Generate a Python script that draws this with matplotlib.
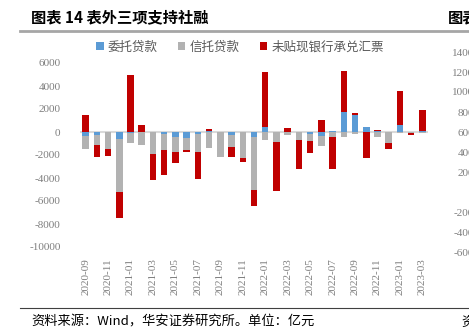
import numpy as np
import matplotlib
matplotlib.use("Agg")
import matplotlib.pyplot as plt
from matplotlib.patches import Patch

plt.rcParams['font.family'] = ['Noto Sans CJK SC', 'DejaVu Sans']

# monthly data, 100 million yuan
months = ["2020-09", "2020-10", "2020-11", "2020-12", "2021-01", "2021-02",
          "2021-03", "2021-04", "2021-05", "2021-06", "2021-07", "2021-08",
          "2021-09", "2021-10", "2021-11", "2021-12", "2022-01", "2022-02",
          "2022-03", "2022-04", "2022-05", "2022-06", "2022-07", "2022-08",
          "2022-09", "2022-10", "2022-11", "2022-12", "2023-01", "2023-02",
          "2023-03"]
entrusted = [-320, -230, -30, -580, -50, -20, -20, -200, -400, -490, -150, 120,
             -10, -230, -20, -400, 400, -20, 30, -10, -150, -380, 60, 1740,
             1510, 435, 50, -20, 580, -10, 120]
trust = [-1160, -870, -1480, -4670, -870, -1070, -1880, -1390, -1330, -1070,
         -1620, -1390, -2150, -1040, -2230, -4640, -720, -870, -290, -670,
         -640, -840, -430, -460, -200, -30, -460, -900, -50, -40, -60]
undiscounted = [1450, -1070, -610, -2200, 4990, 610, -2290, -2150, -930, -200,
                -2290, 170, 0, -870, -380, -1390, 4780, -4230, 300, -2520,
                -1070, 1040, -2750, 3540, 145, -2260, 120, -550, 2960, -200,
                1770]

series_names = ["委托贷款", "信托贷款", "未贴现银行承兑汇票"]
colors = ["#5B9BD5", "#B2B2B2", "#C00000"]
yticks = [6000, 4000, 2000, 0, -2000, -4000, -6000, -8000, -10000]

W, H = 469, 334
fig = plt.figure(figsize=(W / 100, H / 100), dpi=100)
ax = fig.add_axes([80 / W, 1 - 247 / H, 348 / W, (247 - 63) / H])

x = np.arange(len(months))
pos = np.zeros(len(months))
neg = np.zeros(len(months))
handles = []
for vals, c, name in zip([entrusted, trust, undiscounted], colors, series_names):
    v = np.array(vals, dtype=float)
    bottom = np.where(v >= 0, pos, neg)
    ax.bar(x, v, bottom=bottom, width=0.58, color=c, zorder=2)
    pos += np.where(v >= 0, v, 0)
    neg += np.where(v < 0, v, 0)
    handles.append(Patch(facecolor=c, label=name))

ax.axhline(0, color="#D9D9D9", lw=1.5, zorder=1)
ax.set_xlim(-0.5, len(months) - 0.5)
ax.set_ylim(-10000, 6000)
for s in ax.spines.values():
    s.set_visible(False)

tick_font = dict(family="Liberation Serif", size=8, color="#7F7F7F")
ax.set_yticks(yticks)
ax.set_yticklabels([str(t) for t in yticks], **tick_font)
ax.set_xticks(x[::2])
ax.set_xticklabels(months[::2], rotation=90, **tick_font)
ax.tick_params(length=0)
ax.tick_params(axis="y", pad=14)
ax.tick_params(axis="x", pad=8)

leg = ax.legend(handles=handles, loc="center", ncol=3,
                bbox_to_anchor=(0.46, 1 + (63 - 47) / (247 - 63)),
                frameon=False, handlelength=0.6, handleheight=0.6,
                handletextpad=0.35, columnspacing=1.6,
                prop={"size": 9})
for t in leg.get_texts():
    t.set_color("#595959")

# header
fig.text(31 / W, 1 - 17 / H, "图表 14 表外三项支持社融", fontsize=11,
         fontweight="bold", va="center", ha="left")
fig.text(448 / W, 1 - 17 / H, "图表", fontsize=11, fontweight="bold",
         va="center", ha="left")
fig.add_artist(plt.Line2D([20 / W, 1], [1 - 31 / H] * 2, color="#A6A6A6",
                          lw=2))

# edge of the neighbouring chart
for lab, yy in zip(["1400", "1200", "1000", "800", "600", "400", "200",
                    "-200", "-400", "-600"],
                   [53, 73, 93, 114, 133, 153, 174, 213, 234, 254]):
    fig.text(474 / W, 1 - yy / H, lab, ha="right", va="center", **tick_font)

# footer
fig.add_artist(plt.Line2D([20 / W, 1], [1 - 308 / H] * 2, color="#404040",
                          lw=0.8))
fig.text(31 / W, 1 - 322 / H, "资料来源：Wind，华安证券研究所。单位：亿元",
         fontsize=9.5, va="center", ha="left")
fig.text(461 / W, 1 - 322 / H, "资", fontsize=9.5, va="center", ha="left")

fig.savefig("out.png", dpi=100)
